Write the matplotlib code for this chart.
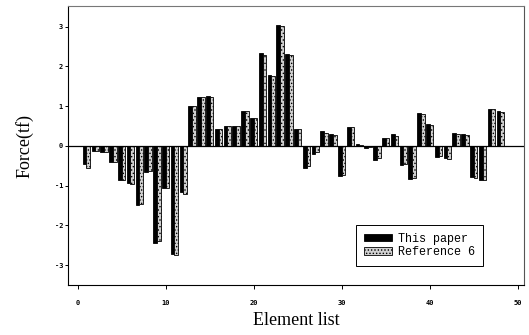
import matplotlib
matplotlib.use("Agg")
import matplotlib.pyplot as plt
import numpy as np

elements = list(range(1, 49))
this_paper = [-0.45, -0.12, -0.15, -0.40, -0.85, -0.93, -1.48, -0.65, -2.43, -1.05,
              -2.72, -1.17, 1.00, 1.22, 1.25, 0.43, 0.50, 0.50, 0.88, 0.70,
              2.33, 1.78, 3.04, 2.31, 0.43, -0.56, -0.20, 0.37, 0.30, -0.75,
              0.47, 0.04, -0.05, -0.35, 0.20, 0.30, -0.48, -0.82, 0.82, 0.55,
              -0.28, -0.30, 0.33, 0.30, -0.78, -0.85, 0.94, 0.88]
reference6 = [-0.55, -0.12, -0.15, -0.40, -0.85, -0.95, -1.45, -0.62, -2.40, -1.05,
              -2.75, -1.20, 1.00, 1.22, 1.23, 0.42, 0.50, 0.50, 0.88, 0.70,
              2.30, 1.76, 3.02, 2.28, 0.42, -0.50, -0.15, 0.33, 0.28, -0.72,
              0.47, 0.03, -0.03, -0.30, 0.20, 0.25, -0.45, -0.80, 0.80, 0.52,
              -0.25, -0.32, 0.30, 0.28, -0.80, -0.85, 0.92, 0.85]
xticks = [0, 10, 20, 30, 40, 50]
yticks = [-3, -2, -1, 0, 1, 2, 3]

plt.rcParams['hatch.linewidth'] = 0.6
fig = plt.figure(figsize=(5.29, 3.35), dpi=100)
ax = fig.add_axes([0.1285, 0.149, 0.862, 0.833])

x = np.array(elements)
w = 0.42
ax.bar(x - w / 2, this_paper, width=w, color='black', edgecolor='black',
       linewidth=0.6, label='This paper')
ax.bar(x + w / 2, reference6, width=w, color='#d0d0d0', edgecolor='black',
       hatch='.....', linewidth=0.6, label='Reference 6')

ax.axhline(0, color='black', linewidth=0.9)
ax.set_xlim(-1.1, 50.7)
ax.set_ylim(-3.5, 3.52)
ax.set_xticks(xticks)
ax.set_yticks(yticks)
ax.set_xticklabels([str(t) for t in xticks], fontsize=5, fontweight='bold',
                   family='DejaVu Sans Mono')
ax.set_yticklabels([str(t) for t in yticks], fontsize=5, fontweight='bold',
                   family='DejaVu Sans Mono')
ax.tick_params(axis='x', direction='out', length=3, width=0.7, pad=8)
ax.tick_params(axis='y', direction='out', length=2, width=0.7, pad=1.5)
for s in ax.spines.values():
    s.set_linewidth(0.8)
ax.spines['top'].set_color('#777777')
ax.spines['right'].set_color('#555555')

ax.set_xlabel('Element list', family='Liberation Serif', fontsize=13, labelpad=4)
ax.set_ylabel('Force(tf)', family='Liberation Serif', fontsize=13, labelpad=15)

leg = ax.legend(loc='lower left', bbox_to_anchor=(0.632, 0.068), frameon=True,
                fancybox=False, edgecolor='black', framealpha=1,
                prop={'family': 'Liberation Mono', 'size': 8.5},
                handlelength=2.4, handleheight=0.65, handletextpad=0.5,
                borderpad=0.65, labelspacing=0.15, borderaxespad=0)
leg.get_frame().set_linewidth(0.7)

fig.savefig('out.png', dpi=100)
